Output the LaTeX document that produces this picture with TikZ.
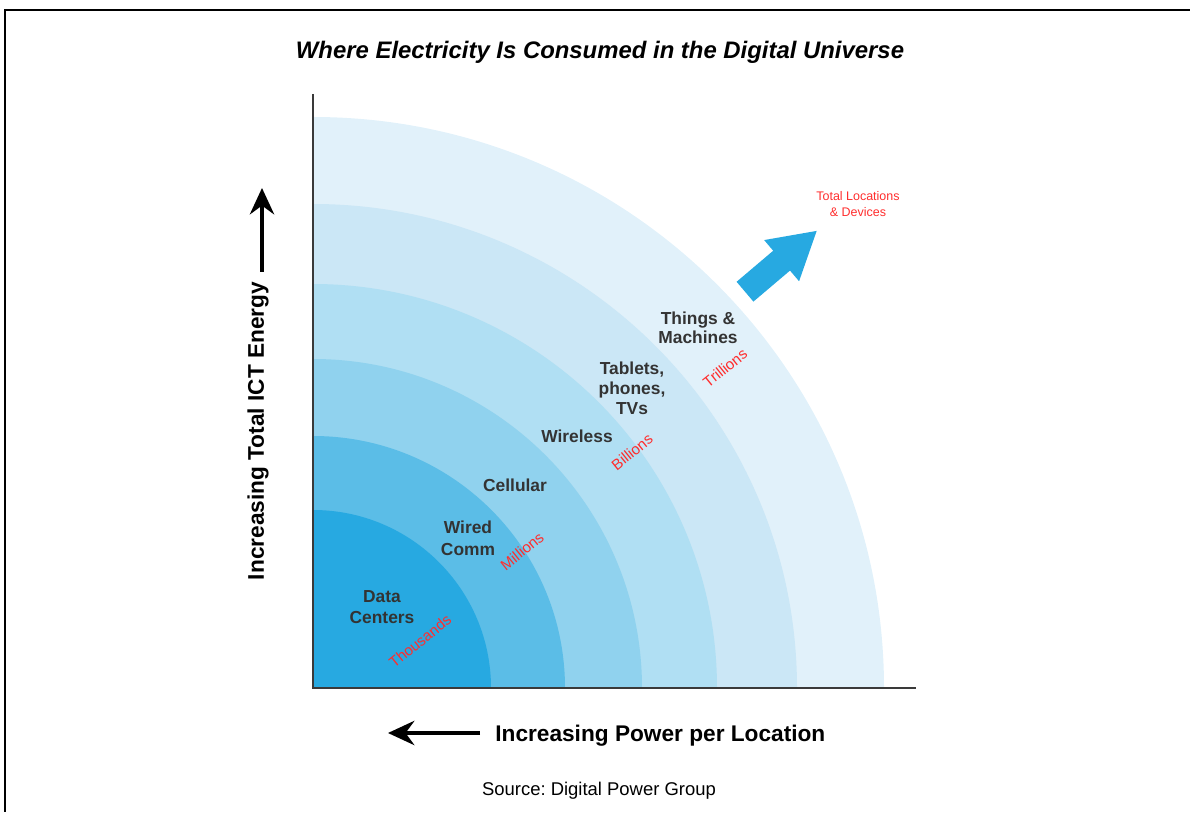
\documentclass[tikz,border=0pt]{standalone}
\usepackage{fontspec}
\setmainfont{Liberation Sans}
\usetikzlibrary{arrows.meta, positioning}
\frenchspacing

\definecolor{ring1}{HTML}{27A9E1}
\definecolor{ring2}{HTML}{5BBDE7}
\definecolor{ring3}{HTML}{90D2EE}
\definecolor{ring4}{HTML}{B0DFF3}
\definecolor{ring5}{HTML}{CBE7F6}
\definecolor{ring6}{HTML}{E1F1FA}
\definecolor{labelgray}{HTML}{333333}
\definecolor{countred}{HTML}{FF2D2D}
\definecolor{axisgray}{HTML}{3A3A3A}

\begin{document}
\begin{tikzpicture}[x=0.02cm, y=0.02cm]
        \tikzset{
            charttitle/.style={inner sep=0pt, font=\bfseries\itshape\fontsize{13.6}{16}\selectfont},
            axislabel/.style={inner sep=0pt, font=\bfseries\fontsize{12.9}{15}\selectfont},
            ringlabel/.style={inner sep=0pt, align=center, text=labelgray, font=\bfseries\fontsize{9.9}{12.4}\selectfont},
            countlabel/.style={inner sep=0pt, rotate=39, text=countred, font=\fontsize{8.6}{10}\selectfont},
            axisarrow/.style={line width=2.3pt, -{Stealth[length=15pt, width=13.8pt, inset=5pt]}}
        }
        \useasboundingbox (0,0) rectangle (1190,812);

        % Frame
        \draw[line width=1.2pt] (1190,802) -- (5,802) -- (5,0);

        % Title
        \node[charttitle, anchor=base] (title) at (600,753.7) {Where Electricity Is Consumed in the Digital Universe};

        % Rings
        \coordinate (origin) at (313,124);
        \foreach \r/\c in {571/ring6, 484/ring5, 404/ring4, 329/ring3, 252/ring2, 178/ring1}
            \fill[\c] (origin) -- ++(\r,0) arc[start angle=0, end angle=90, radius=\r] -- cycle;

        % Axes
        \coordinate (ytop) at (313,718);
        \coordinate (xend) at (916,124);
        \draw[axisgray, line width=1.3pt] (ytop) -- (origin) -- (xend);

        % Axis arrows and labels
        \coordinate (ytail) at (262,540);
        \coordinate (yhead) at (262,624);
        \draw[axisarrow] (ytail) -- (yhead);
        \node[axislabel, rotate=90] (ylabel) at (258,381) {Increasing Total ICT Energy};

        \coordinate (xtail) at (480,79);
        \coordinate (xhead) at (388,79);
        \draw[axisarrow] (xtail) -- (xhead);
        \node[axislabel, right=0.3cm of xtail, yshift=-0.06cm] (xlabel) {Increasing Power per Location};

        % Ring labels
        \node[ringlabel] (datacenters) at (382,205) {Data\\Centers};
        \node[ringlabel] (wiredcomm) at (468,274) {Wired\\Comm};
        \node[ringlabel] (cellular) at (515,327) {Cellular};
        \node[ringlabel] (wireless) at (577,376) {Wireless};
        \node[ringlabel, font=\bfseries\fontsize{9.9}{11.3}\selectfont] (tablets) at (632,424) {Tablets,\\phones,\\TVs};
        \node[ringlabel, font=\bfseries\fontsize{9.9}{10.8}\selectfont] (things) at (698,484) {Things \&\\Machines};

        % Counts
        \node[countlabel] (thousands) at (420,171) {Thousands};
        \node[countlabel] (millions) at (522,261) {Millions};
        \node[countlabel] (billions) at (632,360) {Billions};
        \node[countlabel] (trillions) at (725,444) {Trillions};

        % Growth arrow
        \begin{scope}[shift={(745,520.3)}, rotate=40.3]
            \fill[ring1] (0,-13) -- (48,-13) -- (48,-27) -- (94,0) -- (48,27) -- (48,13) -- (0,13) -- cycle;
        \end{scope}
        \node[inner sep=0pt, align=center, text=countred, font=\fontsize{7.1}{9}\selectfont] (total) at (858,608) {Total Locations\\\& Devices};

        % Source
        \node[inner sep=0pt, font=\fontsize{10.5}{12}\selectfont] (source) at (599,21) {Source: Digital Power Group};
    \end{tikzpicture}
\end{document}
